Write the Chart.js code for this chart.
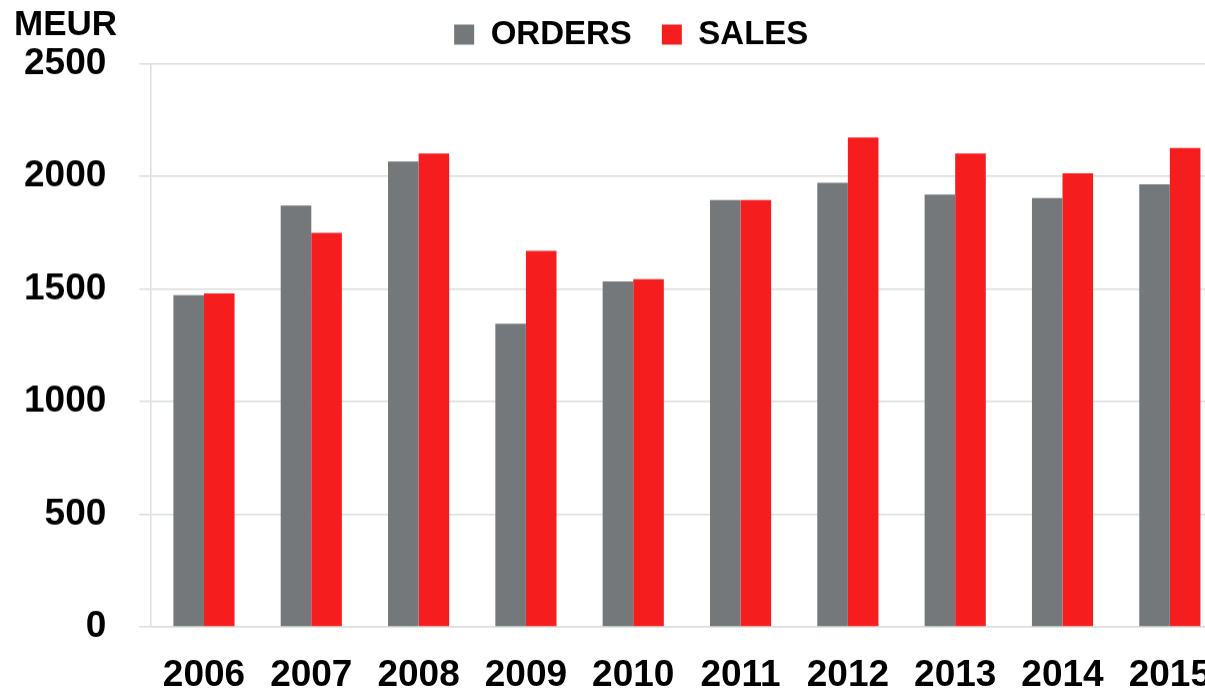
<!DOCTYPE html>
<html>
<head>
<meta charset="utf-8">
<script src="https://cdn.jsdelivr.net/npm/chart.js@4.4.1/dist/chart.umd.min.js"></script>
<style>
  html, body { margin: 0; padding: 0; background: #fff; overflow: hidden; }
  /* the plot runs a little past the right edge of the window */
  #wrap { position: absolute; left: -10px; top: -12px; width: 1280px; height: 735.5px; }
</style>
</head>
<body>
<div id="wrap"><canvas id="ordersSalesChart"></canvas></div>
<script>
// Orders and sales per year, MEUR
const years = ["2006", "2007", "2008", "2009", "2010", "2011", "2012", "2013", "2014", "2015"];
const orders = [1472, 1870, 2066, 1346, 1534, 1895, 1971, 1919, 1903, 1965];
const sales = [1480, 1749, 2101, 1669, 1544, 1895, 2172, 2101, 2013, 2126];
const yTicks = [0, 500, 1000, 1500, 2000, 2500];

const FONT = "'Liberation Sans', Arial, sans-serif";
const GRID = "#dadede";

// unit label above the value axis
const unitLabel = {
  id: "unitLabel",
  afterDraw(chart) {
    const c = chart.ctx;
    c.save();
    c.font = "bold 35px " + FONT;
    c.fillStyle = "#000";
    c.textAlign = "left";
    c.textBaseline = "alphabetic";
    c.fillText("MEUR", 24, 47);
    c.restore();
  },
};

// a bit more room under the legend, and nudge it right of centre
const legendPlace = {
  id: "legendPlace",
  beforeInit(chart) {
    const legend = chart.legend;
    if (!legend) return;
    const fit = legend.fit;
    legend.fit = function () {
      fit.call(this);
      this.height += 2.5;
    };
  },
  afterLayout(chart) {
    if (!chart.legend) return;
    chart.legend.left += 24;
    chart.legend.right += 24;
  },
};

const ctx = document.getElementById("ordersSalesChart").getContext("2d");
const chart = new Chart(ctx, {
  type: "bar",
  data: {
    labels: years,
    datasets: [
      {
        label: "ORDERS",
        data: orders,
        backgroundColor: "#75787b",
        categoryPercentage: 0.57,
        barPercentage: 1.0,
      },
      {
        label: "SALES",
        data: sales,
        backgroundColor: "#f61d1e",
        categoryPercentage: 0.57,
        barPercentage: 1.0,
      },
    ],
  },
  plugins: [unitLabel, legendPlace],
  options: {
    responsive: true,
    maintainAspectRatio: false,
    animation: false,
    layout: { padding: { left: 1, right: 46.5, top: 0, bottom: 0 } },
    plugins: {
      tooltip: { enabled: false },
      legend: {
        position: "top",
        align: "center",
        labels: {
          boxWidth: 20,
          boxHeight: 20,
          padding: 30,
          color: "#000",
          font: { family: FONT, size: 33, weight: "bold" },
        },
      },
    },
    scales: {
      x: {
        grid: { display: false, drawTicks: false },
        border: { display: true, color: GRID, width: 1.5 },
        ticks: {
          color: "#000",
          padding: 26.5,
          maxRotation: 0,
          font: { family: FONT, size: 37, weight: "bold" },
        },
      },
      y: {
        min: 0,
        max: 2500,
        afterBuildTicks(scale) {
          scale.ticks = yTicks.map((v) => ({ value: v }));
        },
        grid: { color: GRID, lineWidth: 1.5, tickLength: 11 },
        border: { display: true, color: GRID, width: 1.5 },
        ticks: {
          color: "#000",
          padding: 33,
          callback: (v) => String(v),
          font: { family: FONT, size: 37, weight: "bold" },
        },
      },
    },
  },
});
</script>
</body>
</html>
